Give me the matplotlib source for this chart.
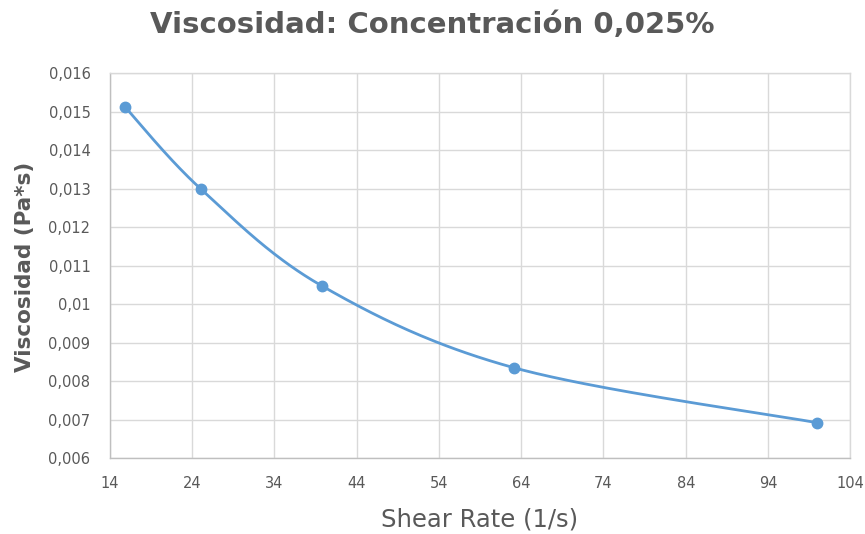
import numpy as np
import matplotlib
matplotlib.use("Agg")
import matplotlib.pyplot as plt
from matplotlib.ticker import FuncFormatter

# Measured data
shear_rate = [15.85, 25.12, 39.81, 63.10, 100.0]
viscosity = [0.01512, 0.01298, 0.01047, 0.00835, 0.00692]

x_ticks = [14, 24, 34, 44, 54, 64, 74, 84, 94, 104]
y_ticks = [0.006, 0.007, 0.008, 0.009, 0.010, 0.011, 0.012, 0.013, 0.014, 0.015, 0.016]

title = "Viscosidad: Concentración 0,025%"
x_label = "Shear Rate (1/s)"
y_label = "Viscosidad (Pa*s)"


def smooth_curve(xs, ys, n=60):
    """Bezier spline through the points (spreadsheet-style smoothed line)."""
    xs = np.asarray(xs, float)
    ys = np.asarray(ys, float)
    px = np.concatenate([[xs[0]], xs, [xs[-1]]])
    py = np.concatenate([[ys[0]], ys, [ys[-1]]])
    out_x, out_y = [], []
    t = np.linspace(0, 1, n)
    for i in range(1, len(px) - 2):
        p0 = np.array([px[i], py[i]])
        p3 = np.array([px[i + 1], py[i + 1]])
        p1 = p0 + (np.array([px[i + 1], py[i + 1]]) - np.array([px[i - 1], py[i - 1]])) / 6
        p2 = p3 - (np.array([px[i + 2], py[i + 2]]) - np.array([px[i], py[i]])) / 6
        b = ((1 - t) ** 3)[:, None] * p0 + (3 * (1 - t) ** 2 * t)[:, None] * p1 \
            + (3 * (1 - t) * t ** 2)[:, None] * p2 + (t ** 3)[:, None] * p3
        out_x.extend(b[:, 0])
        out_y.extend(b[:, 1])
    return np.array(out_x), np.array(out_y)


plt.rcParams['font.family'] = ['DejaVu Sans']
fig = plt.figure(figsize=(8.65, 5.34), dpi=100)
ax = fig.add_axes([0.127, 0.142, 0.856, 0.721])

text_color = "#595959"
line_color = "#5b9bd5"

sx, sy = smooth_curve(shear_rate, viscosity)
ax.plot(sx, sy, color=line_color, lw=2.0, zorder=3, solid_capstyle='round')
ax.plot(shear_rate, viscosity, 'o', color=line_color, markersize=7.5, zorder=4)

ax.set_xlim(x_ticks[0], x_ticks[-1])
ax.set_ylim(y_ticks[0], y_ticks[-1])
ax.set_xticks(x_ticks)
ax.set_yticks(y_ticks)

fmt_y = FuncFormatter(lambda v, p: (f"{v:.3f}".rstrip('0') if abs(v - 0.01) < 1e-9 else f"{v:.3f}").replace('.', ','))
ax.yaxis.set_major_formatter(fmt_y)

ax.grid(True, color="#d9d9d9", lw=1.0)
ax.set_axisbelow(True)
for s in ax.spines.values():
    s.set_color("#d9d9d9")
    s.set_linewidth(1.0)
ax.spines['bottom'].set_color("#bfbfbf")
ax.spines['left'].set_color("#bfbfbf")

ax.tick_params(axis='y', length=0, colors=text_color, labelsize=10.5, pad=14)
ax.tick_params(axis='x', length=0, colors=text_color, labelsize=10.5, pad=13)

fig.text(480 / 865, 1 - 519 / 534, x_label, ha='center', va='center', fontsize=17.5, color=text_color)
fig.text(25 / 865, 1 - 267 / 534, y_label, ha='center', va='center', rotation=90,
         fontsize=15.5, color=text_color, fontweight='bold')
fig.text(0.5, 1 - 25 / 534, title, ha='center', va='center', fontsize=21, fontweight='bold', color=text_color)

fig.savefig("out.png", dpi=100)
